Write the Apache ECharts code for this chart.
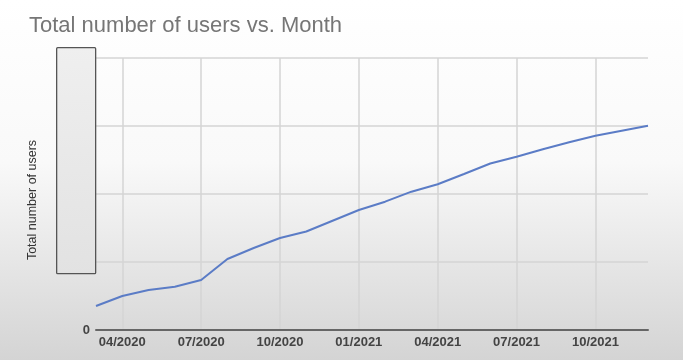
<!DOCTYPE html>
<html>
<head>
<meta charset="utf-8">
<script src="https://cdn.jsdelivr.net/npm/echarts@6/dist/echarts.min.js"></script>
<style>
html,body{margin:0;padding:0;}
#c{width:683px;height:360px;}
</style>
</head>
<body>
<div id="c"></div>
<script>
const months = ["03/2020","04/2020","05/2020","06/2020","07/2020","08/2020","09/2020","10/2020","11/2020","12/2020",
  "01/2021","02/2021","03/2021","04/2021","05/2021","06/2021","07/2021","08/2021","09/2021","10/2021","11/2021","12/2021"];
const users = [353,500,588,637,735,1044,1206,1353,1449,1607,1765,1887,2034,2143,2294,2449,2549,2657,2760,2857,2931,3004];
const quarterStarts = ["01","04","07","10"];
const titleText = 'Total number of users vs. Month';
const yName = 'Total number of users';

const isQuarter = (i) => quarterStarts.indexOf(months[i].slice(0,2)) >= 0;

const chart = echarts.init(document.getElementById('c'), null, {renderer:'canvas'});
chart.setOption({
  animation:false,
  backgroundColor:{type:'linear',x:0,y:0,x2:0,y2:1,colorStops:[
    {offset:0,color:'#ffffff'},{offset:0.45,color:'#f9f9f9'},{offset:1,color:'#d4d4d4'}]},
  title:{text:titleText,left:24,top:10,
    textStyle:{fontFamily:'Liberation Sans, Arial',fontSize:22,fontWeight:'normal',color:'#767676'}},
  grid:{left:96,right:35,top:58,bottom:30,containLabel:false},
  xAxis:{type:'category',data:months,boundaryGap:false,
    axisLine:{lineStyle:{color:'#666',width:2}},
    axisTick:{show:false},
    axisLabel:{interval:(i)=>isQuarter(i),color:'#444',fontSize:13,fontWeight:'bold',fontFamily:'Liberation Sans, Arial',margin:6},
    splitLine:{show:true,interval:(i)=>isQuarter(i),lineStyle:{color:'#d4d4d4',width:1.5}}},
  yAxis:{type:'value',min:0,max:4000,interval:1000,
    axisLine:{show:false},axisTick:{show:false},
    axisLabel:{formatter:(v)=>v===0?'0':'',color:'#444',fontSize:13,fontWeight:'bold',fontFamily:'Liberation Sans, Arial',margin:6},
    splitLine:{lineStyle:{color:'#d4d4d4',width:1.5}}},
  series:[{type:'line',data:users,showSymbol:false,lineStyle:{color:'#5b7cc6',width:2},itemStyle:{color:'#5b7cc6'}}],
  graphic:[
    {type:'rect',left:56,top:47,shape:{width:39,height:226,r:1},
      style:{fill:{type:'linear',x:0,y:0,x2:0,y2:1,colorStops:[{offset:0,color:'#efefef'},{offset:1,color:'#e2e2e2'}]},
        stroke:'#555',lineWidth:1.3},z:10},
    {type:'text',x:33,y:200,rotation:Math.PI/2,
      style:{text:yName,fill:'#333',font:'12.5px "Liberation Sans", Arial',align:'center',verticalAlign:'middle'},z:10}
  ]
});
</script>
</body>
</html>
